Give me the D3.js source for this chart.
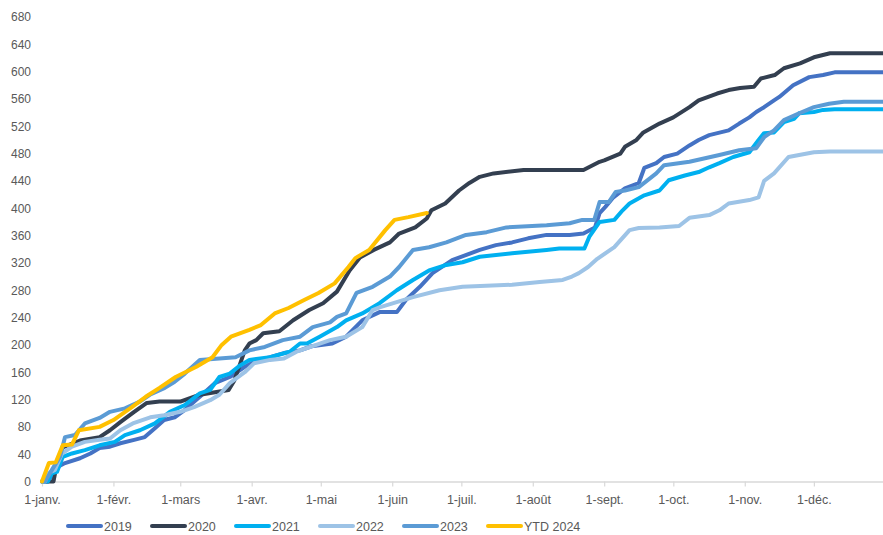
<!DOCTYPE html>
<html><head><meta charset="utf-8">
<script src="https://cdn.jsdelivr.net/npm/d3@7"></script>
<style>
html,body{margin:0;padding:0;background:#fff;}
svg{display:block;font-family:"Liberation Sans",Arial,sans-serif;}
</style></head>
<body><svg id="c" width="883" height="535"></svg>
<script>
// Month tick positions (day of year) and labels
const monthDays = [0,31,60,91,121,152,182,213,244,274,305,335];
const monthLabels = ["1-janv.","1-févr.","1-mars","1-avr.","1-mai","1-juin","1-juil.","1-août","1-sept.","1-oct.","1-nov.","1-déc."];
const yTicks = d3.range(0, 681, 40);

const seriesNames = ["2019","2020","2021","2022","2023","YTD 2024"];
const seriesColors = ["#4472C4","#333F50","#00B0F0","#9DC3E6","#5B9BD5","#FFC000"];

// [day of year, cumulative value]
const s2019 = [[0,0],[2.6,0],[6.5,21],[10,27],[16.5,34],[21,41],[25,49],[29.5,51],[34,56],[40,61],[44.6,65],[49,78],[53,90],[57.6,94],[62,105],[68.5,124],[75,144],[81.5,153],[88,168],[92,175],[99,182],[105,188],[112,192],[117,198],[126,202],[132,212],[139,236],[146.5,248],[154,248],[158,266],[164,285],[169.5,305],[178,324],[190,339],[197,346],[204,350],[211,356],[219,361],[229,361],[235,363],[240,372],[242,393],[244.5,402],[248,416],[253,429],[259,437],[261.4,459],[266.6,466],[270,475],[275.7,480],[281,492],[285,500],[289.6,507],[298,514],[302.6,524],[307,533],[310,541],[313.4,548],[317.7,558],[320,563],[326,580],[333,592],[339,595],[344,599],[365,599]];
const s2020 = [[0,0],[5,0],[6.5,27],[9,50],[16.5,60],[25,65],[29.5,75],[34,87],[40,102],[45.5,115],[51,117],[60,117],[68.5,127],[81,134],[83.5,148],[88,192],[90,202],[93,207],[96,217],[103,220],[109,236],[116,251],[122,261],[128,278],[133.5,309],[138,328],[144,339],[151,350],[155,363],[162,372],[167,385],[169,397],[175,407],[181,426],[185.5,437],[190,446],[196,451],[209,456],[235,456],[242,468],[244,470],[251,480],[253,490],[258,500],[261,511],[268,524],[274,533],[281,548],[285,558],[293,568],[298,573],[303,576],[309,578],[312,590],[318,595],[322,605],[329,612],[335,621],[342,627],[365,627]];
const s2021 = [[0,0],[2.6,0],[4.3,12],[6.5,14],[9,36],[13,41],[18.6,46],[25,53],[31.6,58],[36,68],[42.5,75],[49,85],[55.5,102],[62,112],[68.5,129],[73,134],[77,153],[81.5,158],[86,170],[90,178],[99,182],[107.5,190],[112,202],[115,202],[120.5,212],[128,226],[132,236],[139,246],[146.5,261],[154,280],[161,295],[168,309],[175.5,317],[182.5,321],[190,329],[204,334],[219,339],[224.5,341],[235.4,341],[237.5,358],[242,380],[248.4,383],[252,397],[255,407],[261.4,419],[268,426],[272,441],[279,448],[285,453],[289.6,460],[294,466],[300,475],[307,482],[311,500],[313.4,510],[317.7,511],[322,526],[326.4,531],[328.6,539],[335,541],[339,544],[344,545],[365,545]];
const s2022 = [[0,0],[1.3,0],[2.6,12],[5.6,17],[8.7,41],[13,51],[18.6,58],[25,61],[29.5,63],[34,75],[39.4,85],[47,94],[53,97],[60,102],[66,109],[73,119],[77,127],[81.5,144],[88,160],[92,173],[99,178],[105,180],[110.5,190],[125,207],[132,212],[139,226],[143.5,251],[146.5,255],[161,270],[172.5,280],[182.5,285],[204,288],[216,292],[226,295],[230,300],[233,305],[237,314],[241,326],[248.4,343],[255,368],[259,371],[268,372],[276.5,374],[281,386],[289.6,390],[294,397],[298,407],[307,412],[311,416],[313.4,440],[317.7,451],[324,475],[328.6,478],[335,482],[342,483],[365,483]];
const s2023 = [[0,0],[1.3,0],[4.3,17],[7.8,36],[10,65],[14.3,68],[18.6,85],[25,93],[29.5,102],[36,107],[42.5,117],[46.8,127],[53.3,137],[57.6,146],[62,158],[68.5,178],[77,180],[84,182],[90,192],[96.7,197],[104.5,207],[112,212],[117.5,226],[125,233],[128,241],[132,246],[136.5,276],[143.5,285],[151,300],[155,314],[161,339],[168,343],[175.5,350],[184,361],[193,365],[201.6,372],[219,375],[229,378],[234.5,383],[239.7,383],[242,409],[246,409],[249,424],[253,426],[259,431],[266.6,451],[270,463],[281,468],[294,478],[302.6,485],[310,488],[313.4,504],[317.7,514],[322,529],[328.6,539],[335,548],[341.6,553],[348,556],[365,556]];
const s2024 = [[0,0],[3,27],[6,28],[9,53],[13,54],[16,75],[25,80],[31,90],[39,109],[45,124],[51,137],[58,153],[67,168],[74,182],[78,200],[82,212],[90,222],[95,229],[101,246],[107,254],[114,266],[120,276],[127,290],[133,314],[136,327],[142,339],[149,368],[153,383],[159,387],[167,393]];
const seriesData = [s2019, s2020, s2021, s2022, s2023, s2024];

const svg = d3.select("#c");
const x = d3.scaleLinear().domain([0, 365]).range([42, 883]);
const y = d3.scaleLinear().domain([0, 680]).range([481.5, 17]);

// y axis labels (no line)
const ya = svg.append("g").attr("transform","translate(31,0)")
  .call(d3.axisLeft(y).tickValues(yTicks).tickSize(0).tickPadding(0));
ya.select(".domain").remove();
ya.selectAll("text").attr("fill","#595959").style("font-size","12px").style("font-family","Liberation Sans, Arial, sans-serif");

// x axis
const xa = svg.append("g").attr("transform",`translate(0,${y(0)})`)
  .call(d3.axisBottom(x).tickValues(monthDays).tickFormat((d,i)=>monthLabels[i]).tickSize(5).tickSizeOuter(0).tickPadding(9));
xa.select(".domain").attr("stroke","#D9D9D9").attr("stroke-width",1.5);
xa.selectAll(".tick line").attr("stroke","#D9D9D9").attr("stroke-width",1.2);
xa.selectAll("text").attr("fill","#595959").style("font-size","12.5px").style("font-family","Liberation Sans, Arial, sans-serif");

const line = d3.line().x(d=>x(d[0])).y(d=>y(d[1])).curve(d3.curveLinear);
seriesData.forEach((s,i)=>{
  svg.append("path").datum(s).attr("d",line)
    .attr("fill","none").attr("stroke",seriesColors[i])
    .attr("stroke-width",4).attr("stroke-linejoin","round").attr("stroke-linecap","round");
});

// legend
const lg = svg.append("g").attr("transform","translate(68,526)");
seriesNames.forEach((n,i)=>{
  const g = lg.append("g").attr("transform",`translate(${i*84},0)`);
  g.append("line").attr("x1",0).attr("x2",33).attr("y1",0).attr("y2",0)
    .attr("stroke",seriesColors[i]).attr("stroke-width",4).attr("stroke-linecap","round");
  g.append("text").attr("x",36).attr("y",4.5).attr("fill","#595959")
    .style("font-size","12.5px").text(n);
});
</script></body></html>
